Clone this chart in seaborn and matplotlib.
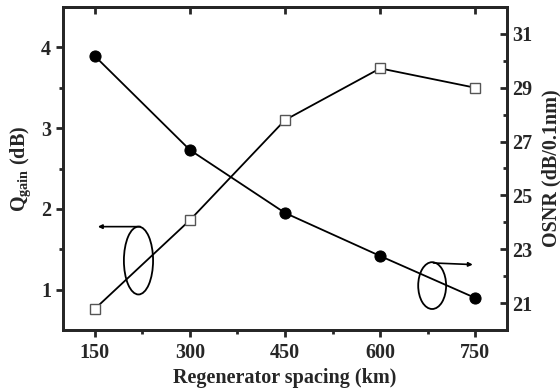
import matplotlib
matplotlib.use("Agg")
import matplotlib.pyplot as plt
from matplotlib.patches import Ellipse
import seaborn as sns
import pandas as pd

spacing = [150, 300, 450, 600, 750]
q_gain = [0.76, 1.86, 3.10, 3.74, 3.50]
osnr = [30.18, 26.69, 24.35, 22.75, 21.19]
x_ticks = [150, 300, 450, 600, 750]
left_ticks = [1, 2, 3, 4]
right_ticks = [21, 23, 25, 27, 29, 31]

sns.set_style("ticks")
plt.rcParams["font.family"] = ["Liberation Serif", "DejaVu Serif"]
plt.rcParams["font.weight"] = "bold"
plt.rcParams["mathtext.fontset"] = "custom"
plt.rcParams["mathtext.rm"] = "Liberation Serif:bold"
plt.rcParams["mathtext.it"] = "Liberation Serif:bold"
plt.rcParams["mathtext.bf"] = "Liberation Serif:bold"

df = pd.DataFrame({"spacing": spacing, "q": q_gain, "osnr": osnr})

fig = plt.figure(figsize=(5.6, 3.91), dpi=100)
ax = fig.add_axes([63/560, 1-330/391, (507-63)/560, (330-7)/391])
ax2 = ax.twinx()

sns.lineplot(data=df, x="spacing", y="q", ax=ax, color="black", lw=1.3,
             marker="s", markersize=7, markerfacecolor="white",
             markeredgecolor="#555555", markeredgewidth=1.0, zorder=3)
sns.lineplot(data=df, x="spacing", y="osnr", ax=ax2, color="black", lw=1.3,
             marker="o", markersize=8, markerfacecolor="black",
             markeredgecolor="black", zorder=3)

ax.set_xlim(100, 800)
ax.set_ylim(0.5, 4.5)
ax2.set_ylim(20, 32)
ax.set_xticks(x_ticks)
ax.set_xticks([225, 375, 525, 675], minor=True)
ax.set_yticks(left_ticks)
ax.set_yticks([1.5, 2.5, 3.5], minor=True)
ax2.set_yticks(right_ticks)
ax2.set_yticks([22, 24, 26, 28, 30, 32], minor=True)

for a in (ax, ax2):
    for s in a.spines.values():
        s.set_linewidth(2.0)
        s.set_visible(True)

FS = 14.5
ax.tick_params(axis="both", which="major", direction="out", length=5, width=2,
               labelsize=FS)
ax.tick_params(axis="both", which="minor", direction="out", length=3, width=2)
ax.tick_params(axis="x", which="both", pad=4, top=False)
ax2.tick_params(axis="y", which="major", direction="in", length=5, width=2,
                labelsize=FS, pad=4)
ax2.tick_params(axis="y", which="minor", direction="in", length=3, width=2)

# top ticks inward
secx = ax.secondary_xaxis("top")
secx.set_xticks(x_ticks)
secx.tick_params(direction="in", length=5, width=2, labeltop=False)
secx.spines["top"].set_linewidth(2.0)

for lab in ax.get_xticklabels() + ax.get_yticklabels() + ax2.get_yticklabels():
    lab.set_fontweight("bold")

ax.set_xlabel("Regenerator spacing (km)", fontsize=FS, fontweight="bold", labelpad=4)
ax.set_ylabel(r"Q$_{\rm gain}$ (dB)", fontsize=FS, fontweight="bold", labelpad=6)
ax2.set_ylabel("OSNR (dB/0.1nm)", fontsize=FS, fontweight="bold", labelpad=6)

# annotations (ellipses with arrows), in left-axis data coords
ax.add_patch(Ellipse((219, 1.36), 46, 0.84, fill=False, lw=1.3, ec="black", zorder=4))
ax.annotate("", xy=(155, 1.78), xytext=(222, 1.78),
            arrowprops=dict(arrowstyle="-|>", lw=1.2, color="black",
                            mutation_scale=6, shrinkA=0, shrinkB=0))
ax.add_patch(Ellipse((682, 1.05), 44, 0.58, fill=False, lw=1.3, ec="black", zorder=4))
ax.annotate("", xy=(746, 1.31), xytext=(684, 1.33),
            arrowprops=dict(arrowstyle="-|>", lw=1.2, color="black",
                            mutation_scale=6, shrinkA=0, shrinkB=0))

fig.savefig("out.png", dpi=100)
